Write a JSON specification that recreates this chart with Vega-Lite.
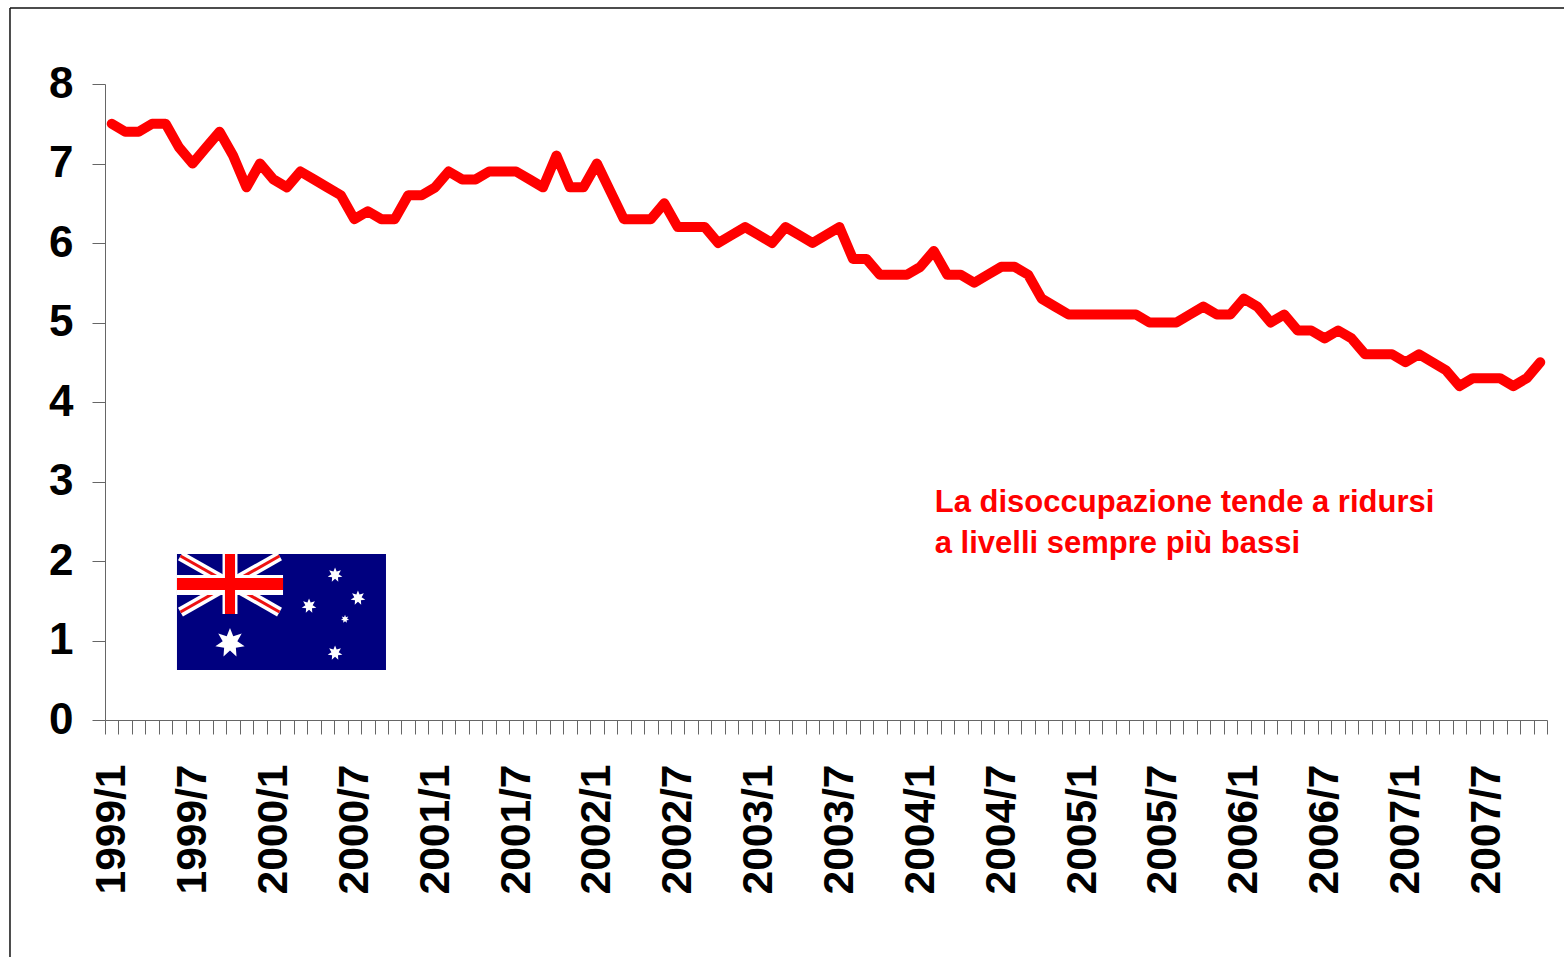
{"$schema":"https://vega.github.io/schema/vega-lite/v6.json","width":1442,"height":636,"autosize":{"type":"none"},"padding":{"left":105,"top":84,"right":17,"bottom":237},"background":"white","config":{"view":{"stroke":null}},
"datasets":{
"series":[{"m":"1999/1","v":7.5},{"m":"1999/2","v":7.4},{"m":"1999/3","v":7.4},{"m":"1999/4","v":7.5},{"m":"1999/5","v":7.5},{"m":"1999/6","v":7.2},{"m":"1999/7","v":7.0},{"m":"1999/8","v":7.2},{"m":"1999/9","v":7.4},{"m":"1999/10","v":7.1},{"m":"1999/11","v":6.7},{"m":"1999/12","v":7.0},{"m":"2000/1","v":6.8},{"m":"2000/2","v":6.7},{"m":"2000/3","v":6.9},{"m":"2000/4","v":6.8},{"m":"2000/5","v":6.7},{"m":"2000/6","v":6.6},{"m":"2000/7","v":6.3},{"m":"2000/8","v":6.4},{"m":"2000/9","v":6.3},{"m":"2000/10","v":6.3},{"m":"2000/11","v":6.6},{"m":"2000/12","v":6.6},{"m":"2001/1","v":6.7},{"m":"2001/2","v":6.9},{"m":"2001/3","v":6.8},{"m":"2001/4","v":6.8},{"m":"2001/5","v":6.9},{"m":"2001/6","v":6.9},{"m":"2001/7","v":6.9},{"m":"2001/8","v":6.8},{"m":"2001/9","v":6.7},{"m":"2001/10","v":7.1},{"m":"2001/11","v":6.7},{"m":"2001/12","v":6.7},{"m":"2002/1","v":7.0},{"m":"2002/2","v":6.65},{"m":"2002/3","v":6.3},{"m":"2002/4","v":6.3},{"m":"2002/5","v":6.3},{"m":"2002/6","v":6.5},{"m":"2002/7","v":6.2},{"m":"2002/8","v":6.2},{"m":"2002/9","v":6.2},{"m":"2002/10","v":6.0},{"m":"2002/11","v":6.1},{"m":"2002/12","v":6.2},{"m":"2003/1","v":6.1},{"m":"2003/2","v":6.0},{"m":"2003/3","v":6.2},{"m":"2003/4","v":6.1},{"m":"2003/5","v":6.0},{"m":"2003/6","v":6.1},{"m":"2003/7","v":6.2},{"m":"2003/8","v":5.8},{"m":"2003/9","v":5.8},{"m":"2003/10","v":5.6},{"m":"2003/11","v":5.6},{"m":"2003/12","v":5.6},{"m":"2004/1","v":5.7},{"m":"2004/2","v":5.9},{"m":"2004/3","v":5.6},{"m":"2004/4","v":5.6},{"m":"2004/5","v":5.5},{"m":"2004/6","v":5.6},{"m":"2004/7","v":5.7},{"m":"2004/8","v":5.7},{"m":"2004/9","v":5.6},{"m":"2004/10","v":5.3},{"m":"2004/11","v":5.2},{"m":"2004/12","v":5.1},{"m":"2005/1","v":5.1},{"m":"2005/2","v":5.1},{"m":"2005/3","v":5.1},{"m":"2005/4","v":5.1},{"m":"2005/5","v":5.1},{"m":"2005/6","v":5.0},{"m":"2005/7","v":5.0},{"m":"2005/8","v":5.0},{"m":"2005/9","v":5.1},{"m":"2005/10","v":5.2},{"m":"2005/11","v":5.1},{"m":"2005/12","v":5.1},{"m":"2006/1","v":5.3},{"m":"2006/2","v":5.2},{"m":"2006/3","v":5.0},{"m":"2006/4","v":5.1},{"m":"2006/5","v":4.9},{"m":"2006/6","v":4.9},{"m":"2006/7","v":4.8},{"m":"2006/8","v":4.9},{"m":"2006/9","v":4.8},{"m":"2006/10","v":4.6},{"m":"2006/11","v":4.6},{"m":"2006/12","v":4.6},{"m":"2007/1","v":4.5},{"m":"2007/2","v":4.6},{"m":"2007/3","v":4.5},{"m":"2007/4","v":4.4},{"m":"2007/5","v":4.2},{"m":"2007/6","v":4.3},{"m":"2007/7","v":4.3},{"m":"2007/8","v":4.3},{"m":"2007/9","v":4.2},{"m":"2007/10","v":4.3},{"m":"2007/11","v":4.5}],
"frame":[{"a":-7.05,"b":108.3,"c":8.956,"d":8.956},{"a":-7.05,"b":-7.05,"c":-2.98,"d":8.956}],
"flag":[{"a":5.34,"b":20.85,"c":0.629,"d":2.088}],
"diag":[{"a":5.6,"b":12.95,"c":2.063,"d":1.358},{"a":12.95,"b":5.6,"c":2.063,"d":1.358}],
"crossWhite":[{"a":8.72,"b":9.83,"c":1.333,"d":2.088},{"a":5.34,"b":13.21,"c":1.571,"d":1.824}],
"crossRed":[{"a":8.9,"b":9.65,"c":1.333,"d":2.088},{"a":5.34,"b":13.21,"c":1.635,"d":1.786}],
"starBig":[{"a":9.275,"c":0.969}],
"starMid":[{"a":17.07,"c":1.824},{"a":15.14,"c":1.434},{"a":18.77,"c":1.535},{"a":17.07,"c":0.843}],
"starSmall":[{"a":17.81,"c":1.27}],
"note":[{"a":61.57,"c":2.612,"t":"La disoccupazione tende a ridursi"},{"a":61.57,"c":2.102,"t":"a livelli sempre più bassi"}]
},
"resolve":{"scale":{"x":"independent"},"axis":{"x":"independent"}},
"layer":[
{"data":{"name":"frame"},"mark":{"type":"rule","color":"#111111","strokeWidth":1.5},"encoding":{"x":{"field":"a","type":"quantitative","scale":{"domain":[0,107],"nice":false,"zero":false},"axis":null},"x2":{"field":"b"},"y":{"field":"c","type":"quantitative","scale":{"domain":[0,8],"nice":false},"axis":{"title":null,"values":[0,1,2,3,4,5,6,7,8],"format":"d","grid":false,"domainColor":"#666666","tickColor":"#666666","tickSize":13,"labelFontSize":44,"labelFont":"Liberation Sans","labelFontWeight":"bold","labelColor":"#000000","labelPadding":19}},"y2":{"field":"d"}}},
{"data":{"name":"flag"},"mark":{"type":"rect","color":"#00007f"},"encoding":{"x":{"field":"a","type":"quantitative","scale":{"domain":[0,107],"nice":false,"zero":false},"axis":null},"x2":{"field":"b"},"y":{"field":"c","type":"quantitative"},"y2":{"field":"d"}}},
{"data":{"name":"diag"},"mark":{"type":"rule","color":"#ffffff","strokeWidth":10},"encoding":{"x":{"field":"a","type":"quantitative","scale":{"domain":[0,107],"nice":false,"zero":false},"axis":null},"x2":{"field":"b"},"y":{"field":"c","type":"quantitative"},"y2":{"field":"d"}}},
{"data":{"name":"diag"},"mark":{"type":"rule","color":"#ee1111","strokeWidth":3},"encoding":{"x":{"field":"a","type":"quantitative","scale":{"domain":[0,107],"nice":false,"zero":false},"axis":null},"x2":{"field":"b"},"y":{"field":"c","type":"quantitative"},"y2":{"field":"d"}}},
{"data":{"name":"crossWhite"},"mark":{"type":"rect","color":"#ffffff"},"encoding":{"x":{"field":"a","type":"quantitative","scale":{"domain":[0,107],"nice":false,"zero":false},"axis":null},"x2":{"field":"b"},"y":{"field":"c","type":"quantitative"},"y2":{"field":"d"}}},
{"data":{"name":"crossRed"},"mark":{"type":"rect","color":"#ff0000"},"encoding":{"x":{"field":"a","type":"quantitative","scale":{"domain":[0,107],"nice":false,"zero":false},"axis":null},"x2":{"field":"b"},"y":{"field":"c","type":"quantitative"},"y2":{"field":"d"}}},
{"data":{"name":"starBig"},"mark":{"type":"point","filled":true,"color":"#ffffff","opacity":1,"size":900,"shape":"M0,-1L.217,-.45L.782,-.623L.487,-.111L.975,.223L.391,.312L.434,.901L0,.5L-.434,.901L-.391,.312L-.975,.223L-.487,-.111L-.782,-.623L-.217,-.45Z"},"encoding":{"x":{"field":"a","type":"quantitative","scale":{"domain":[0,107],"nice":false,"zero":false},"axis":null},"y":{"field":"c","type":"quantitative"}}},
{"data":{"name":"starMid"},"mark":{"type":"point","filled":true,"color":"#ffffff","opacity":1,"size":225,"shape":"M0,-1L.217,-.45L.782,-.623L.487,-.111L.975,.223L.391,.312L.434,.901L0,.5L-.434,.901L-.391,.312L-.975,.223L-.487,-.111L-.782,-.623L-.217,-.45Z"},"encoding":{"x":{"field":"a","type":"quantitative","scale":{"domain":[0,107],"nice":false,"zero":false},"axis":null},"y":{"field":"c","type":"quantitative"}}},
{"data":{"name":"starSmall"},"mark":{"type":"point","filled":true,"color":"#ffffff","opacity":1,"size":70,"shape":"M0,-1L.217,-.45L.782,-.623L.487,-.111L.975,.223L.391,.312L.434,.901L0,.5L-.434,.901L-.391,.312L-.975,.223L-.487,-.111L-.782,-.623L-.217,-.45Z"},"encoding":{"x":{"field":"a","type":"quantitative","scale":{"domain":[0,107],"nice":false,"zero":false},"axis":null},"y":{"field":"c","type":"quantitative"}}},
{"data":{"name":"note"},"mark":{"type":"text","color":"#ff0000","font":"Liberation Sans","fontWeight":"bold","fontSize":31,"align":"left","baseline":"alphabetic"},"encoding":{"x":{"field":"a","type":"quantitative","scale":{"domain":[0,107],"nice":false,"zero":false},"axis":null},"y":{"field":"c","type":"quantitative"},"text":{"field":"t"}}},
{"data":{"name":"series"},"mark":{"type":"line","color":"#ff0000","strokeWidth":10,"strokeJoin":"round","strokeCap":"round"},"encoding":{"x":{"field":"m","type":"nominal","sort":null,"scale":{"type":"band","paddingInner":0,"paddingOuter":0},"axis":{"title":null,"tickBand":"extent","grid":false,"domainColor":"#666666","tickColor":"#666666","tickSize":14,"labelAngle":-90,"labelFontSize":42.5,"labelFont":"Liberation Sans","labelFontWeight":"bold","labelColor":"#000000","labelPadding":30,"labelOverlap":false,"labelBound":false,"labelFlush":false,"labelExpr":"test(/\\/(1|7)$/, datum.value) ? datum.value : ''"}},"y":{"field":"v","type":"quantitative"}}}
]}
